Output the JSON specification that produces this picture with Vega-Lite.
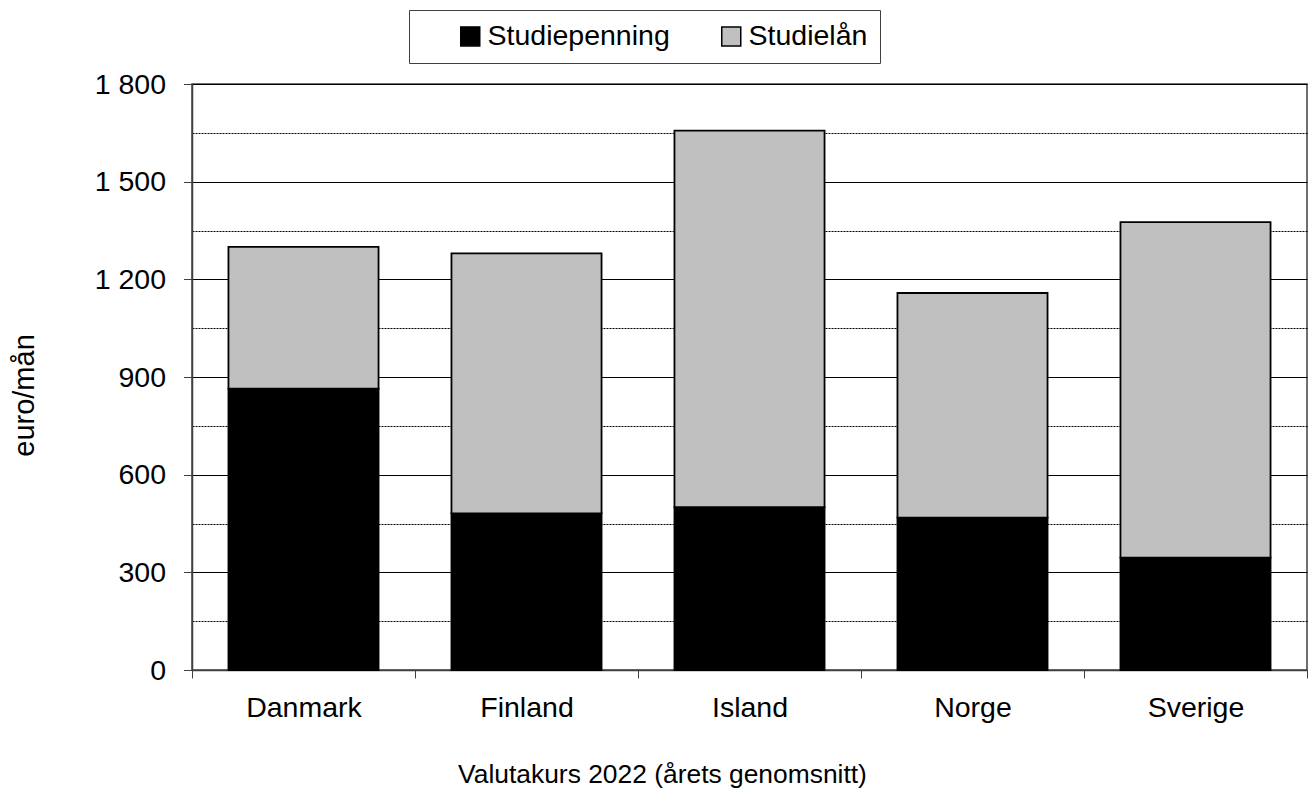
{
  "$schema": "https://vega.github.io/schema/vega-lite/v6.json",
  "width": 1115,
  "height": 586,
  "autosize": {"type": "none"},
  "padding": {"left": 192, "top": 84, "right": 5, "bottom": 124},
  "background": "white",
  "config": {
    "font": "Liberation Sans",
    "view": {"stroke": "#404040", "strokeWidth": 1.5}
  },
  "data": {
    "values": [
      {"land": "Danmark", "typ": "Studiepenning", "belopp": 864},
      {"land": "Danmark", "typ": "Studielån", "belopp": 436},
      {"land": "Finland", "typ": "Studiepenning", "belopp": 481},
      {"land": "Finland", "typ": "Studielån", "belopp": 799},
      {"land": "Island", "typ": "Studiepenning", "belopp": 500},
      {"land": "Island", "typ": "Studielån", "belopp": 1157},
      {"land": "Norge", "typ": "Studiepenning", "belopp": 468},
      {"land": "Norge", "typ": "Studielån", "belopp": 690},
      {"land": "Sverige", "typ": "Studiepenning", "belopp": 345},
      {"land": "Sverige", "typ": "Studielån", "belopp": 1031}
    ]
  },
  "encoding": {
    "x": {
      "field": "land",
      "type": "nominal",
      "sort": null,
      "scale": {"paddingInner": 0, "paddingOuter": 0},
      "axis": {
        "title": "Valutakurs 2022 (årets genomsnitt)",
        "titleFontSize": 26.4,
        "titleFontWeight": "normal",
        "titleColor": "#000",
        "titleX": 470,
        "titleY": 112,
        "titleAlign": "center",
        "titleBaseline": "alphabetic",
        "labelFontSize": 28.5,
        "labelColor": "#000",
        "labelAngle": 0,
        "labelBaseline": "alphabetic",
        "labelPadding": 38,
        "tickBand": "extent",
        "tickSize": 8,
        "tickColor": "#404040",
        "domainColor": "#404040",
        "domainWidth": 1.5,
        "grid": false
      }
    }
  },
  "layer": [
    {
      "mark": {"type": "bar", "opacity": 0, "width": {"band": 0.673}},
      "encoding": {
        "y": {
          "aggregate": "sum",
          "field": "belopp",
          "type": "quantitative",
          "scale": {"domain": [0, 1800], "nice": false},
          "axis": {
            "orient": "right",
            "values": [150, 450, 750, 1050, 1350, 1650],
            "grid": true,
            "gridDash": [2, 1],
            "gridColor": "#000",
            "gridWidth": 1,
            "labels": false,
            "ticks": false,
            "domain": false,
            "title": null
          }
        }
      }
    },
    {
      "mark": {"type": "bar", "stroke": "#000", "strokeWidth": 1.8, "width": {"band": 0.673}},
      "encoding": {
        "y": {
          "field": "belopp",
          "type": "quantitative",
          "stack": "zero",
          "scale": {"domain": [0, 1800], "nice": false},
          "axis": {
            "values": [0, 300, 600, 900, 1200, 1500, 1800],
            "labelExpr": "replace(format(datum.value, ','), ',', ' ')",
            "labelFontSize": 28.5,
            "labelColor": "#000",
            "labelPadding": 18,
            "tickSize": 8.5,
            "tickColor": "#404040",
            "domainColor": "#404040",
            "domainWidth": 1.5,
            "grid": true,
            "gridColor": "#000",
            "gridWidth": 1,
            "title": "euro/mån",
            "titleFontSize": 29,
            "titleFontWeight": "normal",
            "titleColor": "#000",
            "titleX": -159,
            "titleY": 311,
            "titleAngle": 270,
            "titleAlign": "center",
            "titleBaseline": "alphabetic"
          }
        },
        "color": {
          "field": "typ",
          "type": "nominal",
          "scale": {"domain": ["Studiepenning", "Studielån"], "range": ["#000000", "#c0c0c0"]},
          "legend": {
            "orient": "none",
            "legendX": 217,
            "legendY": -74,
            "direction": "horizontal",
            "title": " ",
            "titleOrient": "left",
            "titleFontSize": 10,
            "titlePadding": 35,
            "padding": 12,
            "fillColor": "white",
            "strokeColor": "#404040",
            "labelFontSize": 28.5,
            "labelLimit": 400,
            "labelColor": "#000",
            "labelOffset": 3,
            "symbolType": "square",
            "symbolSize": 361,
            "symbolStrokeColor": "#000",
            "symbolStrokeWidth": 1.5,
            "symbolOpacity": 1,
            "columnPadding": 47
          }
        },
        "order": {"field": "typ", "sort": "descending"}
      }
    }
  ],
  "resolve": {"axis": {"y": "independent"}}
}
